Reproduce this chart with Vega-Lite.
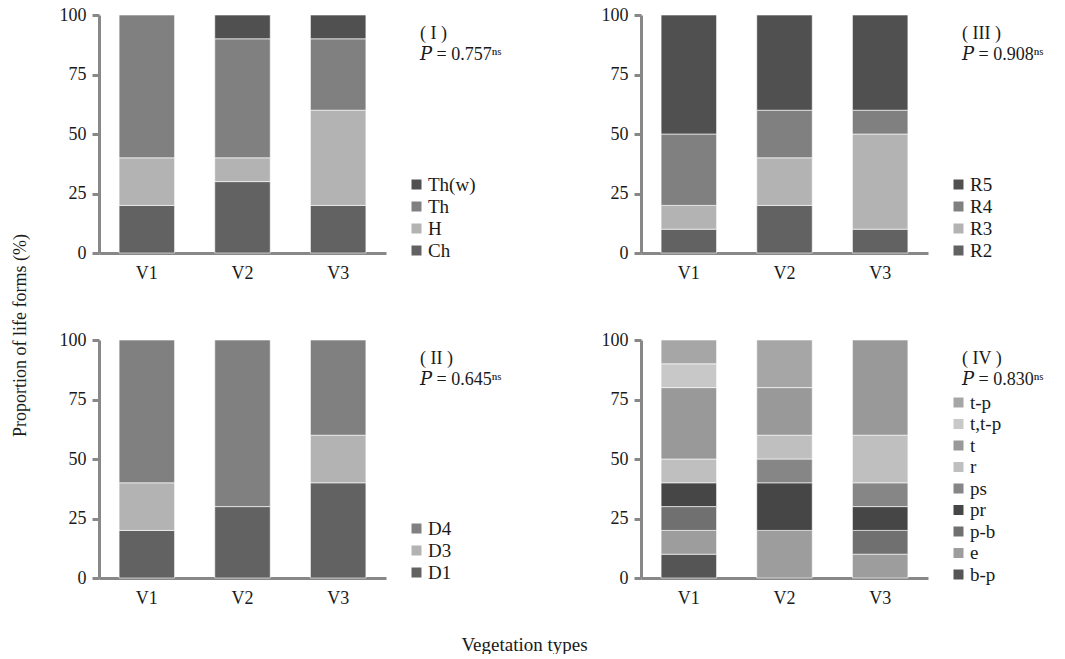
{
  "$schema": "https://vega.github.io/schema/vega-lite/v6.json",
  "autosize": {"type": "pad"},
  "padding": {"left": 11, "top": 6, "right": 0, "bottom": 0},
  "background": "white",
  "datasets": {
    "lf": [
      {"veg": "V1", "form": "Ch", "value": 20},
      {"veg": "V1", "form": "H", "value": 20},
      {"veg": "V1", "form": "Th", "value": 60},
      {"veg": "V2", "form": "Ch", "value": 30},
      {"veg": "V2", "form": "H", "value": 10},
      {"veg": "V2", "form": "Th", "value": 50},
      {"veg": "V2", "form": "Th(w)", "value": 10},
      {"veg": "V3", "form": "Ch", "value": 20},
      {"veg": "V3", "form": "H", "value": 40},
      {"veg": "V3", "form": "Th", "value": 30},
      {"veg": "V3", "form": "Th(w)", "value": 10}
    ],
    "rr": [
      {"veg": "V1", "form": "R2", "value": 10},
      {"veg": "V1", "form": "R3", "value": 10},
      {"veg": "V1", "form": "R4", "value": 30},
      {"veg": "V1", "form": "R5", "value": 50},
      {"veg": "V2", "form": "R2", "value": 20},
      {"veg": "V2", "form": "R3", "value": 20},
      {"veg": "V2", "form": "R4", "value": 20},
      {"veg": "V2", "form": "R5", "value": 40},
      {"veg": "V3", "form": "R2", "value": 10},
      {"veg": "V3", "form": "R3", "value": 40},
      {"veg": "V3", "form": "R4", "value": 10},
      {"veg": "V3", "form": "R5", "value": 40}
    ],
    "dd": [
      {"veg": "V1", "form": "D1", "value": 20},
      {"veg": "V1", "form": "D3", "value": 20},
      {"veg": "V1", "form": "D4", "value": 60},
      {"veg": "V2", "form": "D1", "value": 30},
      {"veg": "V2", "form": "D4", "value": 70},
      {"veg": "V3", "form": "D1", "value": 40},
      {"veg": "V3", "form": "D3", "value": 20},
      {"veg": "V3", "form": "D4", "value": 40}
    ],
    "bb": [
      {"veg": "V1", "form": "b-p", "value": 10},
      {"veg": "V1", "form": "e", "value": 10},
      {"veg": "V1", "form": "p-b", "value": 10},
      {"veg": "V1", "form": "pr", "value": 10},
      {"veg": "V1", "form": "r", "value": 10},
      {"veg": "V1", "form": "t", "value": 30},
      {"veg": "V1", "form": "t,t-p", "value": 10},
      {"veg": "V1", "form": "t-p", "value": 10},
      {"veg": "V2", "form": "e", "value": 20},
      {"veg": "V2", "form": "pr", "value": 20},
      {"veg": "V2", "form": "ps", "value": 10},
      {"veg": "V2", "form": "r", "value": 10},
      {"veg": "V2", "form": "t", "value": 20},
      {"veg": "V2", "form": "t-p", "value": 20},
      {"veg": "V3", "form": "e", "value": 10},
      {"veg": "V3", "form": "p-b", "value": 10},
      {"veg": "V3", "form": "pr", "value": 10},
      {"veg": "V3", "form": "ps", "value": 10},
      {"veg": "V3", "form": "r", "value": 20},
      {"veg": "V3", "form": "t", "value": 40}
    ]
  },
  "columns": 2,
  "spacing": {"row": 87, "column": 255},
  "bounds": "flush",
  "resolve": {"scale": {"color": "independent", "x": "independent", "y": "independent"}, "legend": {"color": "independent"}},
  "concat": [
    {
      "data": {"name": "lf"},
      "width": 287, "height": 238,
      "title": {"text": "( I )", "subtitle": "𝑃 = 0.757ⁿˢ", "anchor": "end", "frame": "group", "align": "left", "dx": 34, "dy": 58, "offset": 0},
      "mark": {"type": "bar", "stroke": "white", "strokeWidth": 0.6},
      "encoding": {
        "x": {"field": "veg", "type": "nominal", "scale": {"paddingInner": 0.42, "paddingOuter": 0.21}, "axis": {"title": null}},
        "y": {"field": "value", "type": "quantitative", "stack": "zero", "scale": {"domain": [0, 100], "nice": false},
              "axis": {"title": "Proportion of life forms (%)", "values": [0, 25, 50, 75, 100], "titleX": -79, "titleY": 320, "titleAngle": 270, "titleBaseline": "middle", "titleAlign": "center"}},
        "color": {"field": "form", "type": "nominal",
                  "scale": {"domain": ["Th(w)", "Th", "H", "Ch"], "range": ["#505050", "#808080", "#b3b3b3", "#626262"]},
                  "legend": {"legendX": 308, "legendY": 160}},
        "order": {"field": "form", "sort": "ascending"}
      }
    },
    {
      "data": {"name": "rr"},
      "width": 287, "height": 238,
      "title": {"text": "( III )", "subtitle": "𝑃 = 0.908ⁿˢ", "anchor": "end", "frame": "group", "align": "left", "dx": 34, "dy": 58, "offset": 0},
      "mark": {"type": "bar", "stroke": "white", "strokeWidth": 0.6},
      "encoding": {
        "x": {"field": "veg", "type": "nominal", "scale": {"paddingInner": 0.42, "paddingOuter": 0.21}, "axis": {"title": null}},
        "y": {"field": "value", "type": "quantitative", "stack": "zero", "scale": {"domain": [0, 100], "nice": false},
              "axis": {"title": null, "values": [0, 25, 50, 75, 100]}},
        "color": {"field": "form", "type": "nominal",
                  "scale": {"domain": ["R5", "R4", "R3", "R2"], "range": ["#505050", "#808080", "#b3b3b3", "#626262"]},
                  "legend": {"legendX": 308, "legendY": 160}},
        "order": {"field": "form", "sort": "ascending"}
      }
    },
    {
      "data": {"name": "dd"},
      "width": 287, "height": 238,
      "title": {"text": "( II )", "subtitle": "𝑃 = 0.645ⁿˢ", "anchor": "end", "frame": "group", "align": "left", "dx": 34, "dy": 58, "offset": 0},
      "mark": {"type": "bar", "stroke": "white", "strokeWidth": 0.6},
      "encoding": {
        "x": {"field": "veg", "type": "nominal", "scale": {"paddingInner": 0.42, "paddingOuter": 0.21},
              "axis": {"title": "Vegetation types", "titleX": 425, "titleY": 72, "titleBaseline": "alphabetic", "titleAlign": "center", "titleFontSize": 19}},
        "y": {"field": "value", "type": "quantitative", "stack": "zero", "scale": {"domain": [0, 100], "nice": false},
              "axis": {"title": null, "values": [0, 25, 50, 75, 100]}},
        "color": {"field": "form", "type": "nominal",
                  "scale": {"domain": ["D4", "D3", "D1"], "range": ["#808080", "#b3b3b3", "#626262"]},
                  "legend": {"legendX": 308, "legendY": 179}},
        "order": {"field": "form", "sort": "ascending"}
      }
    },
    {
      "data": {"name": "bb"},
      "width": 287, "height": 238,
      "title": {"text": "( IV )", "subtitle": "𝑃 = 0.830ⁿˢ", "anchor": "end", "frame": "group", "align": "left", "dx": 34, "dy": 58, "offset": 0},
      "mark": {"type": "bar", "stroke": "white", "strokeWidth": 0.6},
      "encoding": {
        "x": {"field": "veg", "type": "nominal", "scale": {"paddingInner": 0.42, "paddingOuter": 0.21}, "axis": {"title": null}},
        "y": {"field": "value", "type": "quantitative", "stack": "zero", "scale": {"domain": [0, 100], "nice": false},
              "axis": {"title": null, "values": [0, 25, 50, 75, 100]}},
        "color": {"field": "form", "type": "nominal",
                  "scale": {"domain": ["t-p", "t,t-p", "t", "r", "ps", "pr", "p-b", "e", "b-p"],
                            "range": ["#a6a6a6", "#c8c8c8", "#999999", "#bfbfbf", "#868686", "#464646", "#707070", "#9d9d9d", "#555555"]},
                  "legend": {"legendX": 308, "legendY": 53, "rowPadding": 1.5}},
        "order": {"field": "form", "sort": "ascending"}
      }
    }
  ],
  "config": {
    "font": "Liberation Serif",
    "view": {"stroke": null},
    "axis": {"labelFont": "Liberation Serif", "labelFontSize": 18, "labelColor": "#1a1a1a", "domainColor": "#888888", "domainWidth": 3,
             "tickColor": "#888888", "tickWidth": 3, "grid": false, "titleFont": "Liberation Serif", "titleFontSize": 18,
             "titleFontWeight": "normal", "titleColor": "#1a1a1a"},
    "axisX": {"ticks": false, "labelAngle": 0, "labelPadding": 11},
    "axisY": {"tickSize": 7, "labelPadding": 6},
    "legend": {"orient": "none", "title": null, "symbolType": "square", "symbolSize": 100, "symbolStrokeWidth": 0,
               "labelFont": "Liberation Serif", "labelFontSize": 19, "labelColor": "#1a1a1a", "rowPadding": 2, "labelOffset": 2,
               "padding": 0, "labelLimit": 200},
    "title": {"font": "Liberation Serif", "fontSize": 18, "fontWeight": "normal", "color": "#1a1a1a",
              "subtitleFont": "Liberation Serif, DejaVu Serif", "subtitleFontSize": 18, "subtitleColor": "#1a1a1a", "subtitlePadding": 3}
  }
}
